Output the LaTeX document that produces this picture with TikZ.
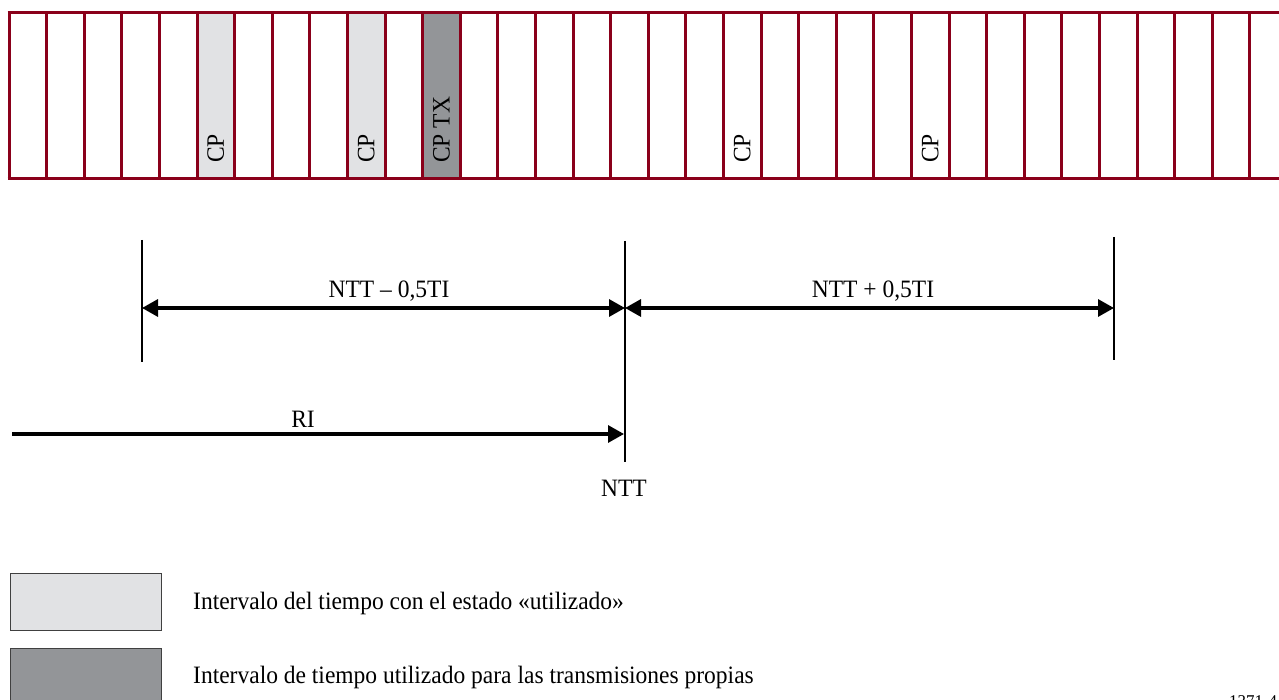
\documentclass[tikz,border=0pt]{standalone}
\usepackage{fontspec}
\setmainfont{Liberation Serif}[FakeStretch=0.94]
\usetikzlibrary{arrows.meta}
\definecolor{framered}{RGB}{138,0,26}
\definecolor{usedgray}{RGB}{225,226,228}
\definecolor{txgray}{RGB}{147,149,152}
\begin{document}
\begin{tikzpicture}[x=1pt,y=-1pt,
  lbl/.style={font=\fontsize{25}{30}\selectfont, inner sep=0pt},
  cplbl/.style={lbl, rotate=90, anchor=west},
  dim/.style={line width=3.2pt, {Triangle[length=16pt,width=17pt]}-{Triangle[length=16pt,width=17pt]}},
  onearrow/.style={line width=3.2pt, -{Triangle[length=16pt,width=17pt]}},
  tickline/.style={line width=1.8pt},
  gridline/.style={framered, line width=3pt},
  legendbox/.style={draw=black!75, line width=1pt, minimum width=151pt, minimum height=57pt, inner sep=0pt, anchor=north west}]
\useasboundingbox (0,0) rectangle (1279,700);
\clip (0,0) rectangle (1279,700);
% shaded cells
\fill[usedgray] ({9+37.6*5},13) rectangle ({9+37.6*6},179);
\fill[usedgray] ({9+37.6*9},13) rectangle ({9+37.6*10},179);
\fill[txgray] ({9+37.6*11},13) rectangle ({9+37.6*12},179);
% strip grid
\foreach \k in {0,...,33}
  \draw[gridline] ({9+37.6*\k},13) -- ({9+37.6*\k},179);
\draw[gridline] (7.5,13) -- (1290,13);
\draw[gridline] (7.5,179) -- (1290,179);
% CP labels
\node[cplbl] (cp1) at ({9+37.6*5.5},163) {CP};
\node[cplbl] (cp2) at ({9+37.6*9.5},163) {CP};
\node[cplbl] (cp3) at ({9+37.6*11.5},163) {CP TX};
\node[cplbl] (cp4) at ({9+37.6*19.5},163) {CP};
\node[cplbl] (cp5) at ({9+37.6*24.5},163) {CP};
% vertical reference lines
\coordinate (Ltop) at (142,240);
\coordinate (Lbot) at (142,362);
\coordinate (Ntop) at (625,241);
\coordinate (Nbot) at (625,462);
\coordinate (Rtop) at (1114,237);
\coordinate (Rbot) at (1114,360);
\draw[tickline] (Ltop) -- (Lbot);
\draw[tickline] (Ntop) -- (Nbot);
\draw[tickline] (Rtop) -- (Rbot);
% dimension arrows
\coordinate (dL) at (142,308);
\coordinate (dN) at (625,308);
\coordinate (dR) at (1114,308);
\draw[dim] (dL) -- (dN);
\draw[dim] (dN) -- (dR);
\node[lbl] (lminus) at (389,291) {NTT -- 0,5TI};
\node[lbl] (lplus) at (873,291) {NTT + 0,5TI};
% RI arrow
\coordinate (riS) at (12,434);
\coordinate (riE) at (624,434);
\draw[onearrow] (riS) -- (riE);
\node[lbl] (ri) at (303,419) {RI};
\node[lbl] (ntt) at (624,488) {NTT};
% legend
\node[legendbox, fill=usedgray] (leg1) at (10,573) {};
\node[legendbox, fill=txgray] (leg2) at (10,648) {};
\node[lbl, anchor=west] (legt1) at (193,603) {Intervalo del tiempo con el estado «utilizado»};
\node[lbl, anchor=west] (legt2) at (193,677) {Intervalo de tiempo utilizado para las transmisiones propias};
\node[font=\fontsize{18}{20}\selectfont, inner sep=0pt, anchor=north west] (fig) at (1229,695) {1371-4};
\end{tikzpicture}
\end{document}
